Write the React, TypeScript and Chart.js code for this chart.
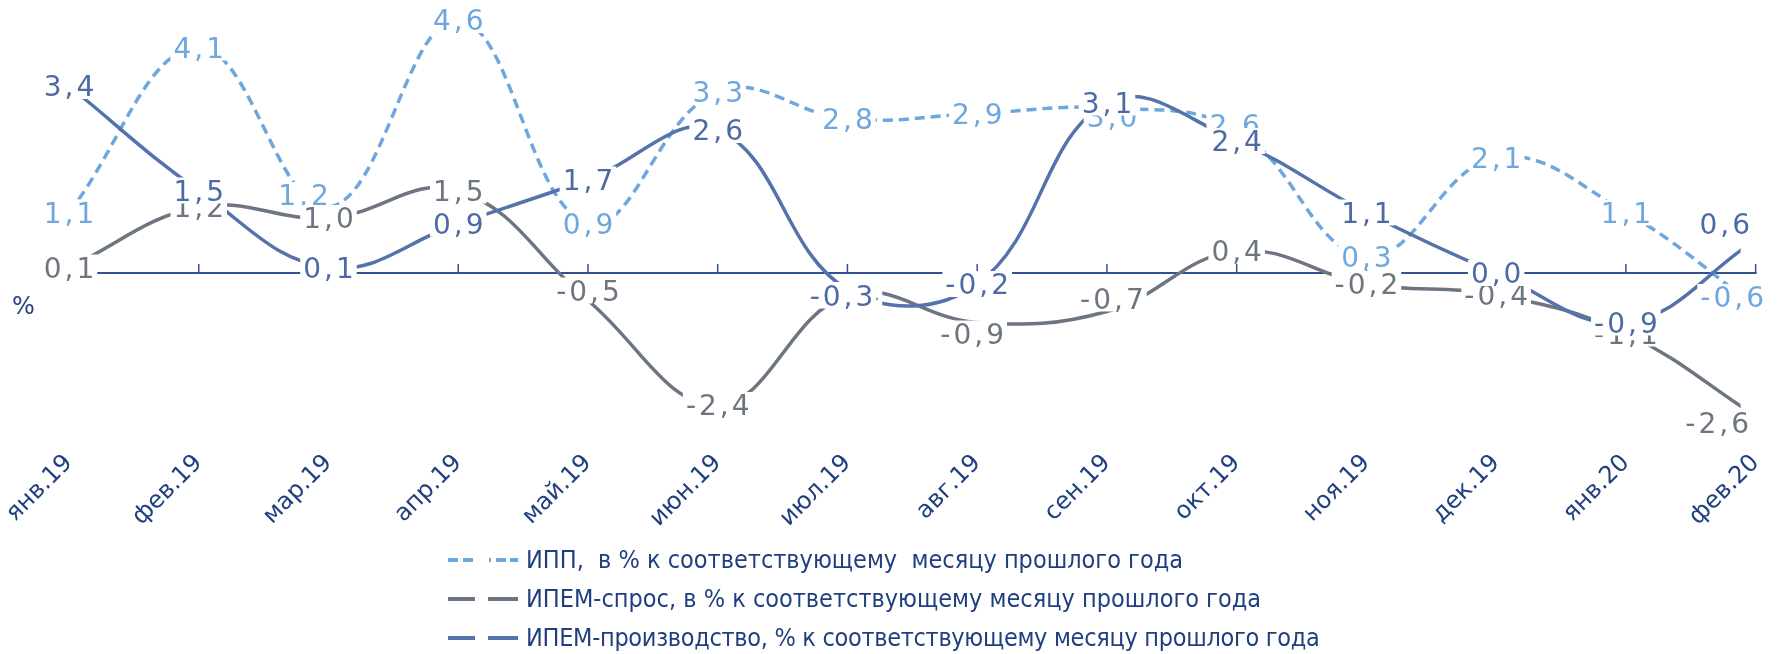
import React, { useEffect, useRef } from 'react';
import { Chart, registerables } from 'chart.js';

Chart.register(...registerables);

const W = 1779;
const H = 654;

const categories = ['янв.19', 'фев.19', 'мар.19', 'апр.19', 'май.19', 'июн.19', 'июл.19', 'авг.19', 'сен.19', 'окт.19', 'ноя.19', 'дек.19', 'янв.20', 'фев.20'];
const ippValues = [1.1, 4.1, 1.2, 4.6, 0.9, 3.3, 2.8, 2.9, 3.0, 2.6, 0.3, 2.1, 1.1, -0.6];
const demandValues = [0.1, 1.2, 1.0, 1.5, -0.5, -2.4, -0.4, -0.9, -0.7, 0.4, -0.2, -0.4, -1.1, -2.6];
const productionValues = [3.4, 1.5, 0.1, 0.9, 1.7, 2.6, -0.3, -0.2, 3.1, 2.4, 1.1, 0.0, -0.9, 0.6];
const seriesNames = [
  'ИПП,  в % к соответствующему  месяцу прошлого года',
  'ИПЕМ-спрос, в % к соответствующему месяцу прошлого года',
  'ИПЕМ-производство, % к соответствующему месяцу прошлого года',
];
const unitLabel = '%';

// pixel nudges for individual data labels ("series:index" -> [dx, dy])
const labelNudges: Record<string, [number, number]> = {
  '0:2': [-25, -12],
  '0:8': [5, 9],
  '0:9': [-2, -5],
  '1:4': [0, -10],
  '1:7': [-5, 11],
  '1:8': [5, -13],
  '2:6': [-6, 6],
  '0:13': [12, -9],
  '1:13': [-3, 7],
  '2:13': [-2, -16],
};

const IPP_COLOR = '#6EA7DD';
const DEMAND_COLOR = '#6D7580';
const PROD_COLOR = '#5473AC';
const PROD_LABEL_COLOR = '#4D6AA5';
const AXIS_COLOR = '#2F5292';
const NAVY = '#203F7F';
const labelColors = [IPP_COLOR, DEMAND_COLOR, PROD_LABEL_COLOR];

const fmt = (v: number) => v.toFixed(1).replace('.', ',');

const overlayPlugin = {
  id: 'overlay',
  beforeDatasetsDraw(chart: any) {
    const { ctx, scales } = chart;
    const x = scales.x;
    const y = scales.y;
    const y0 = y.getPixelForValue(0);
    const xs = categories.map((_, i) => x.getPixelForValue(i));
    ctx.save();
    ctx.strokeStyle = AXIS_COLOR;
    ctx.lineWidth = 2;
    ctx.beginPath();
    ctx.moveTo(xs[0], y0);
    ctx.lineTo(xs[xs.length - 1] + 1, y0);
    ctx.stroke();
    ctx.lineWidth = 1.5;
    xs.forEach((px: number) => {
      ctx.beginPath();
      ctx.moveTo(px, y0);
      ctx.lineTo(px, y0 - 9);
      ctx.stroke();
    });
    ctx.fillStyle = NAVY;
    ctx.font = '24px "DejaVu Sans"';
    ctx.textAlign = 'left';
    ctx.textBaseline = 'alphabetic';
    ctx.fillText(unitLabel, 12, 314);
    ctx.restore();
  },
  afterDatasetsDraw(chart: any) {
    const { ctx } = chart;
    ctx.save();
    ctx.font = '28px "DejaVu Sans"';
    (ctx as any).letterSpacing = '3px';
    ctx.textAlign = 'left';
    ctx.textBaseline = 'alphabetic';
    const all = [ippValues, demandValues, productionValues];
    all.forEach((vals, d) => {
      const meta = chart.getDatasetMeta(d);
      vals.forEach((v, i) => {
        const el = meta.data[i];
        if (!el) return;
        const t = fmt(v);
        const w = ctx.measureText(t).width - 3;
        const bw = w + 6;
        const bh = 26;
        let cx = el.x;
        let cy = el.y;
        const maxRight = W - 24;
        if (cx + bw / 2 > maxRight) cx = maxRight - bw / 2;
        if (cx - bw / 2 < 2) cx = 2 + bw / 2;
        const nudge = labelNudges[d + ':' + i];
        if (nudge) {
          cx += nudge[0];
          cy += nudge[1];
        }
        ctx.fillStyle = '#ffffff';
        ctx.fillRect(cx - bw / 2, cy - bh / 2, bw, bh);
        ctx.fillStyle = labelColors[d];
        ctx.fillText(t, cx - w / 2, cy + 10);
      });
    });
    ctx.restore();
  },
};

export default function App() {
  const ref = useRef<HTMLCanvasElement | null>(null);

  useEffect(() => {
    if (!ref.current) return;
    const lineClip = { left: 20, top: 20, right: -15, bottom: 20 };
    const chart = new Chart(ref.current, {
      type: 'line',
      data: {
        labels: categories,
        datasets: [
          {
            label: seriesNames[0],
            data: ippValues,
            borderColor: IPP_COLOR,
            borderWidth: 3.5,
            borderDash: [10, 6],
            tension: 0.4,
            pointRadius: 0,
            fill: false,
            order: 2,
            clip: lineClip,
          },
          {
            label: seriesNames[1],
            data: demandValues,
            borderColor: DEMAND_COLOR,
            borderWidth: 3.5,
            tension: 0.4,
            pointRadius: 0,
            fill: false,
            order: 1,
            clip: lineClip,
          },
          {
            label: seriesNames[2],
            data: productionValues,
            borderColor: PROD_COLOR,
            borderWidth: 3.5,
            tension: 0.4,
            pointRadius: 0,
            fill: false,
            order: 0,
            clip: lineClip,
          },
        ],
      },
      options: {
        responsive: false,
        animation: false,
        devicePixelRatio: 1,
        layout: { padding: { left: 69, right: 22, top: 9, bottom: 0 } },
        plugins: {
          legend: { display: false },
          tooltip: { enabled: false },
        },
        scales: {
          x: {
            type: 'category',
            offset: false,
            grid: { display: false },
            border: { display: false },
            ticks: {
              autoSkip: false,
              minRotation: 45,
              maxRotation: 45,
              color: NAVY,
              padding: 3,
              font: { family: 'DejaVu Sans', size: 24 },
            },
            afterFit: (s: any) => {
              s.height = H - 438;
            },
          },
          y: {
            display: false,
            min: -3,
            max: 4.8,
          },
        },
      },
      plugins: [overlayPlugin],
    });
    return () => chart.destroy();
  }, []);

  const legendColors = [IPP_COLOR, DEMAND_COLOR, PROD_COLOR];

  return (
    <div style={{ position: 'absolute', left: 0, top: 0, width: W, height: H, background: '#ffffff', overflow: 'hidden' }}>
      <canvas ref={ref} width={W} height={H} style={{ position: 'absolute', left: 0, top: 0, width: W, height: H }} />
      <div
        style={{
          position: 'absolute',
          left: 448,
          top: 540,
          fontFamily: '"DejaVu Sans Condensed", "DejaVu Sans", sans-serif',
          fontSize: 25,
          color: NAVY,
          whiteSpace: 'pre',
        }}
      >
        {seriesNames.map((name, i) => (
          <div key={i} style={{ height: 39, display: 'flex', alignItems: 'center' }}>
            <svg width={74} height={10} style={{ flex: 'none' }}>
              {i === 0 ? (
                <g stroke={legendColors[i]} strokeWidth={4}>
                  <line x1={0} y1={5} x2={27} y2={5} strokeDasharray="10 5" />
                  <line x1={41} y1={5} x2={70} y2={5} strokeDasharray="2 5 10 4 10 4" />
                </g>
              ) : (
                <g stroke={legendColors[i]} strokeWidth={4}>
                  <line x1={0} y1={5} x2={27} y2={5} />
                  <line x1={40} y1={5} x2={70} y2={5} />
                </g>
              )}
            </svg>
            <span style={{ marginLeft: 4, letterSpacing: i === 2 ? '-0.3px' : 'normal' }}>{name}</span>
          </div>
        ))}
      </div>
    </div>
  );
}
